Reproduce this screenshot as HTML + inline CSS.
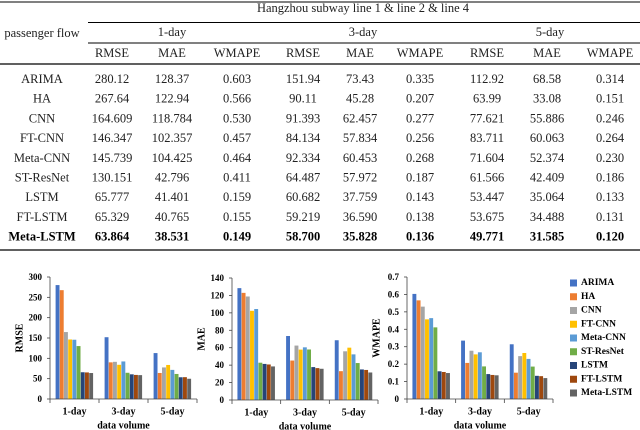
<!DOCTYPE html>
<html><head><meta charset="utf-8"><style>
body{margin:0;width:640px;height:430px;background:#fff;overflow:hidden;font-family:"Liberation Serif","Times New Roman",serif;}
svg{position:absolute;left:0;top:0}
svg text{font-family:"Liberation Serif","Times New Roman",serif;}
</style></head><body>
<svg id="s" width="640" height="430" xmlns="http://www.w3.org/2000/svg" font-family="Liberation Serif, serif"></svg>
<script>
const models=["ARIMA","HA","CNN","FT-CNN","Meta-CNN","ST-ResNet","LSTM","FT-LSTM","Meta-LSTM"];
const periods=["1-day","3-day","5-day"];
const rmse=[[280.12,151.94,112.92],[267.64,90.11,63.99],[164.609,91.393,77.621],[146.347,84.134,83.711],[145.739,92.334,71.604],[130.151,64.487,61.566],[65.777,60.682,53.447],[65.329,59.219,53.675],[63.864,58.700,49.771]];
const mae=[[128.37,73.43,68.58],[122.94,45.28,33.08],[118.784,62.457,55.886],[102.357,57.834,60.063],[104.425,60.453,52.374],[42.796,57.972,42.409],[41.401,37.759,35.064],[40.765,36.590,34.488],[38.531,35.828,31.585]];
const wmape=[[0.603,0.335,0.314],[0.566,0.207,0.151],[0.530,0.277,0.246],[0.457,0.256,0.264],[0.464,0.268,0.230],[0.411,0.187,0.186],[0.159,0.143,0.133],[0.155,0.138,0.131],[0.149,0.136,0.120]];
const rmseText=[["280.12","151.94","112.92"],["267.64","90.11","63.99"],["164.609","91.393","77.621"],["146.347","84.134","83.711"],["145.739","92.334","71.604"],["130.151","64.487","61.566"],["65.777","60.682","53.447"],["65.329","59.219","53.675"],["63.864","58.700","49.771"]];
const maeText=[["128.37","73.43","68.58"],["122.94","45.28","33.08"],["118.784","62.457","55.886"],["102.357","57.834","60.063"],["104.425","60.453","52.374"],["42.796","57.972","42.409"],["41.401","37.759","35.064"],["40.765","36.590","34.488"],["38.531","35.828","31.585"]];
const colors=["#4472C4","#ED7D31","#A5A5A5","#FFC000","#5B9BD5","#70AD47","#264478","#9E480E","#636363"];
const s=document.getElementById('s');const NS="http://www.w3.org/2000/svg";
function el(t,a,txt){const e=document.createElementNS(NS,t);for(const k in a)e.setAttribute(k,a[k]);if(txt!==undefined)e.textContent=txt;s.appendChild(e);return e;}
function line(x1,y1,x2,y2,w,n){const e=el('line',{x1,y1,x2,y2,stroke:'#000','stroke-width':w});

}
line(0,2,640,2,1,'table-top-rule');
line(88,22.5,640,22.5,1,'table-rule-1');
line(88,43,640,43,1,'table-rule-2');
line(0,64,640,64,1.3,'table-header-rule');
line(0,250,640,250,1.3,'table-bottom-rule');
function tx(x,y,t,n,o){const e=el('text',Object.assign({x,y,'text-anchor':'middle','font-size':'12.5','dominant-baseline':'central',fill:'#222','font-family':'Liberation Serif, serif'},o||{}),t);

return e;}
tx(363,8,"Hangzhou subway line 1 & line 2 & line 4",'table-title');
tx(42,33,"passenger flow",'passenger-flow-header');
const colX=[112,172,237,303,360,420,487,547,610];
const grpX=[172,363,550];
periods.forEach((p,i)=>tx(grpX[i],32,p,'period-header'));
["RMSE","MAE","WMAPE"].forEach((m,j)=>{for(let g=0;g<3;g++)tx(colX[g*3+j],53,m,'metric-header');});
models.forEach((m,i)=>{const y=79+i*19.7;const b=i===8?{'font-weight':'bold',fill:'#000'}:{};
tx(42,y,m,'row-label',b);
for(let g=0;g<3;g++){tx(colX[g*3],y,rmseText[i][g],'cell',b);tx(colX[g*3+1],y,maeText[i][g],'cell',b);tx(colX[g*3+2],y,wmape[i][g].toFixed(3),'cell',b);}
});
function chart(data,x0,x1,y0,yt,max,step,dec,title,nm){
 const ys=v=>y0-(v/max)*(y0-yt);
 const cw=(x1-x0)/3,bw=4.2;
 const F='Liberation Serif, serif';
 for(let v=0;v<=max+1e-9;v+=step){const t=el('text',{x:x0-8,y:ys(v),'text-anchor':'end','dominant-baseline':'central','font-size':'9','font-weight':'bold','font-family':F},dec?(+v.toFixed(1)).toString():Math.round(v));
 
 
 const tk=el('line',{x1:x0-3,x2:x0,y1:ys(v),y2:ys(v),stroke:'#444','stroke-width':0.8});
 
 }
 for(let g=0;g<3;g++){const cx=x0+cw*(g+0.5);
  for(let i=0;i<9;i++){const v=data[i][g];const r=el('rect',{x:cx-9*bw/2+i*bw,y:ys(v),width:bw-0.3,height:y0-ys(v),fill:colors[i]});
  
  }
  const l=el('text',{x:cx,y:y0+13,'text-anchor':'middle','dominant-baseline':'central','font-size':'10','font-weight':'bold','font-family':F},periods[g]);
  
  
 }
 for(let g=0;g<=3;g++){const tk=el('line',{x1:x0+cw*g,x2:x0+cw*g,y1:y0,y2:y0+4,stroke:'#444','stroke-width':0.8});
 
 }
 const ax=el('line',{x1:x0,x2:x0,y1:yt,y2:y0,stroke:'#444','stroke-width':0.8});
 
 
 const axx=el('line',{x1:x0,x2:x1,y1:y0,y2:y0,stroke:'#444','stroke-width':0.8});
 
 
 const yt2=el('text',{x:0,y:0,'text-anchor':'middle','dominant-baseline':'central','font-size':'10','font-weight':'bold','font-family':F,transform:`translate(${x0-30},${(y0+yt)/2}) rotate(-90)`},title);
 
 
 const xt=el('text',{x:(x0+x1)/2,y:y0+27,'text-anchor':'middle','dominant-baseline':'central','font-size':'10','font-weight':'bold','font-family':F},"data volume");
 
 
}
chart(rmse,50,197,399,277,300,50,false,"RMSE","rmse-chart");
chart(mae,232,378,400,278,140,20,false,"MAE","mae-chart");
chart(wmape,407,553,399,277,0.7,0.1,true,"WMAPE","wmape-chart");
models.forEach((m,i)=>{const y=283+i*13.75;
 const r=el('rect',{x:570,y:y-3.5,width:7,height:7,fill:colors[i]});
 
 
 const t=el('text',{x:581,y:y,'dominant-baseline':'central','font-size':'9.5','font-weight':'bold','font-family':'Liberation Serif, serif'},m);
 
 
});
</script>
</body></html>
